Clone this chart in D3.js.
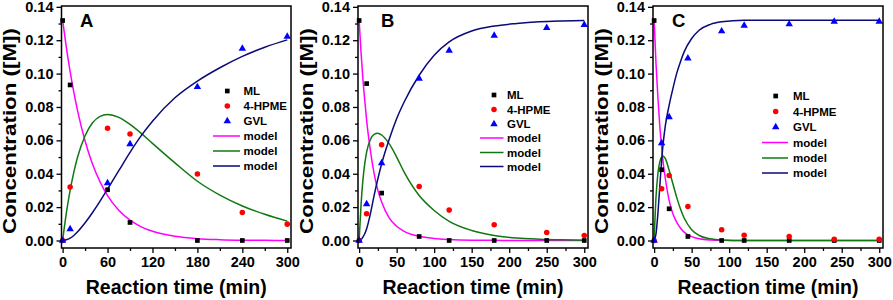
<!DOCTYPE html>
<html>
<head>
<meta charset="utf-8">
<script src="https://cdn.jsdelivr.net/npm/d3@7"></script>
<style>
  body { margin: 0; background: #fff; }
  svg { display: block; font-family: "Liberation Sans", Arial, sans-serif; font-weight: bold; }
</style>
</head>
<body>
<div id="chart"></div>
<script>
// measured points (min, M)
const timesA = [0, 10, 60, 90, 180, 240, 300];
const mlA = [0.1318, 0.0932, 0.0304, 0.0108, 0, 0, 0];
const hpmeA = [0, 0.032, 0.0672, 0.0638, 0.0398, 0.0168, 0.0098];
const gvlA = [0, 0.0068, 0.0344, 0.0578, 0.092, 0.115, 0.1222];

const timesB = [0, 10, 30, 80, 120, 180, 250, 300];
const mlB = [0.1318, 0.094, 0.0284, 0.0024, 0, 0, 0, 0];
const hpmeB = [0, 0.016, 0.0574, 0.0324, 0.0182, 0.0094, 0.0048, 0.003];
const gvlB = [0, 0.0218, 0.0464, 0.097, 0.1138, 0.1228, 0.1274, 0.1292];

const timesC = [0, 10, 20, 45, 90, 120, 180, 240, 300];
const mlC = [0.1318, 0.0424, 0.019, 0.0024, 0, 0, 0, 0, 0];
const hpmeC = [0, 0.031, 0.039, 0.0204, 0.0064, 0.0032, 0.0024, 0.0008, 0.0008];
const gvlC = [0, 0.0584, 0.074, 0.1092, 0.1254, 0.1288, 0.1296, 0.1312, 0.1312];

// model curves
const modelTimesA = [0, 5, 10, 15, 20, 30, 40, 50, 60, 75, 90, 105, 120, 150, 180, 210, 240, 270, 300];
const mlModelA = [0.132, 0.1156, 0.1013, 0.0887, 0.0777, 0.0596, 0.0457, 0.0351, 0.0269, 0.0181, 0.0122, 0.0082, 0.0055, 0.0025, 0.0011, 0.0005, 0.0002, 0.0001, 0];
const hpmeModelA = [0, 0.0165, 0.030, 0.041, 0.050, 0.0628, 0.0705, 0.0744, 0.0755, 0.0738, 0.0696, 0.0642, 0.0582, 0.0465, 0.0355, 0.0272, 0.0207, 0.0157, 0.0116];
const gvlModelA = [0, 0.0004, 0.0014, 0.0030, 0.0052, 0.0106, 0.0168, 0.0236, 0.0308, 0.0418, 0.0528, 0.0628, 0.0715, 0.0855, 0.0955, 0.1035, 0.1103, 0.1158, 0.1202];

const modelTimesB = [0, 2.5, 5, 7.5, 10, 15, 20, 25, 30, 40, 50, 60, 80, 100, 120, 150, 180, 210, 240, 270, 300];
const mlModelB = [0.132, 0.113, 0.097, 0.084, 0.072, 0.054, 0.040, 0.030, 0.023, 0.0135, 0.0085, 0.0055, 0.0025, 0.0012, 0.0006, 0.0002, 0.0001, 0, 0, 0, 0];
const hpmeModelB = [0, 0.021, 0.036, 0.046, 0.053, 0.0605, 0.0636, 0.0643, 0.0632, 0.058, 0.050, 0.041, 0.027, 0.018, 0.0115, 0.006, 0.003, 0.0015, 0.0008, 0.0004, 0.0002];
const gvlModelB = [0, 0.0005, 0.002, 0.004, 0.007, 0.016, 0.027, 0.037, 0.046, 0.0605, 0.073, 0.083, 0.099, 0.111, 0.119, 0.1255, 0.1285, 0.130, 0.131, 0.1315, 0.1318];

const modelTimesC = [0, 2.5, 5, 7.5, 10, 12.5, 15, 20, 25, 30, 35, 40, 50, 60, 75, 90, 120, 150, 200, 250, 300];
const mlModelC = [0.132, 0.106, 0.086, 0.069, 0.056, 0.045, 0.037, 0.024, 0.016, 0.011, 0.0075, 0.005, 0.0023, 0.001, 0.0003, 0.0001, 0, 0, 0, 0, 0];
const hpmeModelC = [0, 0.026, 0.040, 0.047, 0.050, 0.0505, 0.049, 0.042, 0.034, 0.026, 0.019, 0.0135, 0.0065, 0.003, 0.001, 0.0003, 0, 0, 0, 0, 0];
const gvlModelC = [0, 0.004, 0.016, 0.032, 0.048, 0.060, 0.069, 0.081, 0.091, 0.100, 0.107, 0.113, 0.121, 0.126, 0.1295, 0.131, 0.132, 0.132, 0.132, 0.132, 0.132];

// tick labels
const yTicks = [0, 0.02, 0.04, 0.06, 0.08, 0.10, 0.12, 0.14];
const yMinorTicks = [0.01, 0.03, 0.05, 0.07, 0.09, 0.11, 0.13];
const xTicksA = [0, 60, 120, 180, 240, 300];
const xMinorTicksA = [30, 90, 150, 210, 270];
const xTicksBC = [0, 50, 100, 150, 200, 250, 300];
const xMinorTicksBC = [25, 75, 125, 175, 225, 275];

const legendLabels = ['ML', '4-HPME', 'GVL', 'model', 'model', 'model'];
const yTitle = 'Concentration ([M])';
const xTitle = 'Reaction time (min)';

const width = 893;
const height = 300;
const plotTop = 6;
const plotBottom = 248;

const markColors = ['#000000', '#ff0000', '#0000ff'];
const lineColors = ['#ff00ff', '#107810', '#0a0a78'];

const svg = d3.select('#chart').append('svg')
  .attr('width', width)
  .attr('height', height);

const panels = [
  {
    label: 'A', left: 61.5, right: 291,
    times: timesA, points: [mlA, hpmeA, gvlA],
    modelTimes: modelTimesA, models: [mlModelA, hpmeModelA, gvlModelA],
    xTicks: xTicksA, xMinor: xMinorTicksA,
    labelX: 80, legend: { rows: [91, 106, 121, 136, 151, 166], mark: 227.3, line: [213, 240], text: 243.5 },
  },
  {
    label: 'B', left: 358, right: 588,
    times: timesB, points: [mlB, hpmeB, gvlB],
    modelTimes: modelTimesB, models: [mlModelB, hpmeModelB, gvlModelB],
    xTicks: xTicksBC, xMinor: xMinorTicksBC,
    labelX: 381, legend: { rows: [95, 109.5, 124, 138, 152.5, 166.5], mark: 494, line: [480, 503.5], text: 507 },
  },
  {
    label: 'C', left: 653, right: 883,
    times: timesC, points: [mlC, hpmeC, gvlC],
    modelTimes: modelTimesC, models: [mlModelC, hpmeModelC, gvlModelC],
    xTicks: xTicksBC, xMinor: xMinorTicksBC,
    labelX: 672, legend: { rows: [96, 111.5, 127, 142.5, 158, 173], mark: 775.7, line: [762, 788], text: 793 },
  },
];

const symbols = [d3.symbolSquare, d3.symbolCircle, d3.symbolTriangle];
const symbolSizes = [22, 24, 24];

function drawMark(g, k, x, y) {
  g.append('path')
    .attr('d', d3.symbol().type(symbols[k]).size(symbolSizes[k])())
    .attr('transform', `translate(${x},${y})`)
    .attr('fill', markColors[k]);
}

panels.forEach(p => {
  const x = d3.scaleLinear().domain([-1.5, 305]).range([p.left, p.right]);
  const y = d3.scaleLinear().domain([-0.0045, 0.1405]).range([plotBottom, plotTop]);
  const g = svg.append('g');

  // model lines
  const line = d3.line()
    .curve(d3.curveMonotoneX)
    .x(d => x(d[0]))
    .y(d => y(d[1]));

  p.models.forEach((vals, k) => {
    g.append('path')
      .datum(p.modelTimes.map((t, i) => [t, vals[i]]))
      .attr('fill', 'none')
      .attr('stroke', lineColors[k])
      .attr('stroke-width', 1.5)
      .attr('d', line);
  });

  // measured points
  p.points.forEach((vals, k) => {
    p.times.forEach((t, i) => drawMark(g, k, x(t), y(vals[i])));
  });

  // axes
  const yAxis = g.append('g')
    .attr('transform', `translate(${p.left},0)`)
    .call(d3.axisLeft(y).tickValues(yTicks).tickSize(5).tickPadding(3).tickFormat(d3.format('.2f')));
  g.append('g')
    .attr('transform', `translate(${p.left},0)`)
    .call(d3.axisLeft(y).tickValues(yMinorTicks).tickSize(3).tickFormat(''));

  const xAxis = g.append('g')
    .attr('transform', `translate(0,${plotBottom})`)
    .call(d3.axisBottom(x).tickValues(p.xTicks).tickSize(5).tickPadding(4));
  g.append('g')
    .attr('transform', `translate(0,${plotBottom})`)
    .call(d3.axisBottom(x).tickValues(p.xMinor).tickSize(3).tickFormat(''));

  g.selectAll('.domain').remove();
  g.selectAll('.tick line').attr('stroke', '#000').attr('stroke-width', 1.3);
  [yAxis, xAxis].forEach(ax => ax.selectAll('text')
    .attr('font-family', '"Liberation Sans", Arial, sans-serif')
    .attr('font-weight', 'bold')
    .attr('font-size', 14.5)
    .attr('fill', '#000'));

  // frame
  g.append('rect')
    .attr('x', p.left)
    .attr('y', plotTop)
    .attr('width', p.right - p.left)
    .attr('height', plotBottom - plotTop)
    .attr('fill', 'none')
    .attr('stroke', '#000')
    .attr('stroke-width', 1.5);

  // titles
  g.append('text')
    .attr('transform', `translate(${p.left - 45.5},${(plotTop + plotBottom) / 2 + 4}) rotate(-90)`)
    .attr('text-anchor', 'middle')
    .attr('font-size', 19)
    .attr('textLength', 206)
    .attr('lengthAdjust', 'spacingAndGlyphs')
    .text(yTitle);

  g.append('text')
    .attr('x', (p.left + p.right) / 2)
    .attr('y', 294)
    .attr('text-anchor', 'middle')
    .attr('font-size', 19.5)
    .text(xTitle);

  g.append('text')
    .attr('x', p.labelX)
    .attr('y', 27)
    .attr('font-size', 18.5)
    .text(p.label);

  // legend
  const lg = p.legend;
  legendLabels.forEach((name, i) => {
    const ry = lg.rows[i];
    if (i < 3) {
      drawMark(g, i, lg.mark, ry);
    } else {
      g.append('line')
        .attr('x1', lg.line[0])
        .attr('x2', lg.line[1])
        .attr('y1', ry)
        .attr('y2', ry)
        .attr('stroke', lineColors[i - 3])
        .attr('stroke-width', 1.5);
    }
    g.append('text')
      .attr('x', lg.text)
      .attr('y', ry + 4)
      .attr('font-size', 11.5)
      .text(name);
  });
});
</script>
</body>
</html>
